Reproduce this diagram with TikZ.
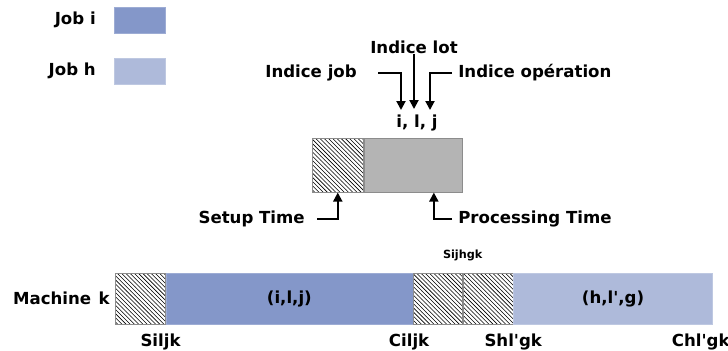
\documentclass[tikz,border=0pt]{standalone}
\usepackage{fontspec}
\setmainfont{DejaVu Sans}
\usetikzlibrary{arrows.meta,positioning,patterns}
\definecolor{JobIBlue}{RGB}{132,151,201}
\definecolor{JobHBlue}{RGB}{174,186,218}
\definecolor{ProcGray}{RGB}{180,180,180}
\definecolor{EdgeGray}{RGB}{140,140,140}
\newcommand{\pxu}{0.025cm}
\tikzset{
  lbl/.style={font=\bfseries\fontsize{11.8}{13}\selectfont,inner sep=0pt},
  smalllbl/.style={font=\bfseries\fontsize{8}{9}\selectfont,inner sep=0pt},
  setupbox/.style={draw=EdgeGray,pattern=north west lines,inner sep=0pt,anchor=north west},
  procbox/.style={draw=EdgeGray,fill=ProcGray,inner sep=0pt,anchor=north west},
  jobibox/.style={draw=JobIBlue!80!white,fill=JobIBlue,inner sep=0pt,anchor=north west},
  jobhbox/.style={draw=JobHBlue!80!white,fill=JobHBlue,inner sep=0pt,anchor=north west},
  arrow/.style={-{Triangle[length=9*\pxu,width=9*\pxu]},line width=1.4pt,black}
}
\begin{document}
\begin{tikzpicture}[x=\pxu,y=-\pxu]
\useasboundingbox (0,0) rectangle (728,350);
% legend
\node[jobibox,minimum width=51*\pxu,minimum height=26*\pxu] (legi) at (114,7) {};
\node[jobhbox,minimum width=51*\pxu,minimum height=26*\pxu] (legh) at (114,58) {};
\node[lbl,left=18*\pxu of legi.west] (jobi) {Job i};
\node[lbl,left=18*\pxu of legh.west] (jobh) {Job h};
% operation box
\node[setupbox,minimum width=51*\pxu,minimum height=54*\pxu] (setup) at (312,138) {};
\node[procbox,minimum width=98*\pxu,minimum height=54*\pxu] (proc) at (setup.north east) {};
\node[lbl] (ilj) at (417,123) {i, l, j};
\node[lbl] (indlot) at (414,47) {Indice lot};
\node[lbl,anchor=east] (indjob) at (357,73) {Indice job};
\node[lbl,anchor=west] (indop) at (458,73) {Indice opération};
\node[lbl,anchor=east] (setuptxt) at (305,219) {Setup Time};
\node[lbl,anchor=west] (proctxt) at (458,219) {Processing Time};
\coordinate (tipjob) at (401,110);
\coordinate (tiplot) at (414,109);
\coordinate (tipop) at (430,110);
\draw[arrow] ([xshift=21*\pxu]indjob.east) -| (tipjob);
\draw[arrow] (indlot.south) -- (tiplot);
\draw[arrow] ([xshift=-6*\pxu]indop.west) -| (tipop);
\draw[arrow] ([xshift=12*\pxu]setuptxt.east) -| (setup.south);
\draw[arrow] ([xshift=-6*\pxu]proctxt.west) -| ([xshift=21*\pxu]proc.south);
% machine k
\node[setupbox,minimum width=50*\pxu,minimum height=51*\pxu] (s1) at (115,273) {};
\node[jobibox,minimum width=247*\pxu,minimum height=51*\pxu] (opi) at (s1.north east) {};
\node[setupbox,minimum width=49*\pxu,minimum height=51*\pxu] (s2) at (opi.north east) {};
\node[setupbox,minimum width=50*\pxu,minimum height=51*\pxu] (s3) at (s2.north east) {};
\node[jobhbox,minimum width=199*\pxu,minimum height=51*\pxu] (oph) at (s3.north east) {};
\node[lbl] at (opi.center) {(i,l,j)};
\node[lbl] at (oph.center) {(h,l\textquotesingle,g)};
\node[lbl,left=5*\pxu of s1.west] (mach) {Machine\hspace{0.45em}k};
\node[smalllbl,above=12*\pxu of s2.north east] (sijhgk) {Sijhgk};
\node[lbl,below=9*\pxu of s1.south east,xshift=-5*\pxu] (siljk) {Siljk};
\node[lbl,below=9*\pxu of opi.south east,xshift=-4*\pxu] (ciljk) {Ciljk};
\node[lbl,below=9*\pxu of s3.south east] (shlgk) {Shl\textquotesingle gk};
\node[lbl,anchor=north east] (chlgk) at ([xshift=17*\pxu,yshift=-9*\pxu]oph.south east) {Chl\textquotesingle gk};
\end{tikzpicture}
\end{document}
